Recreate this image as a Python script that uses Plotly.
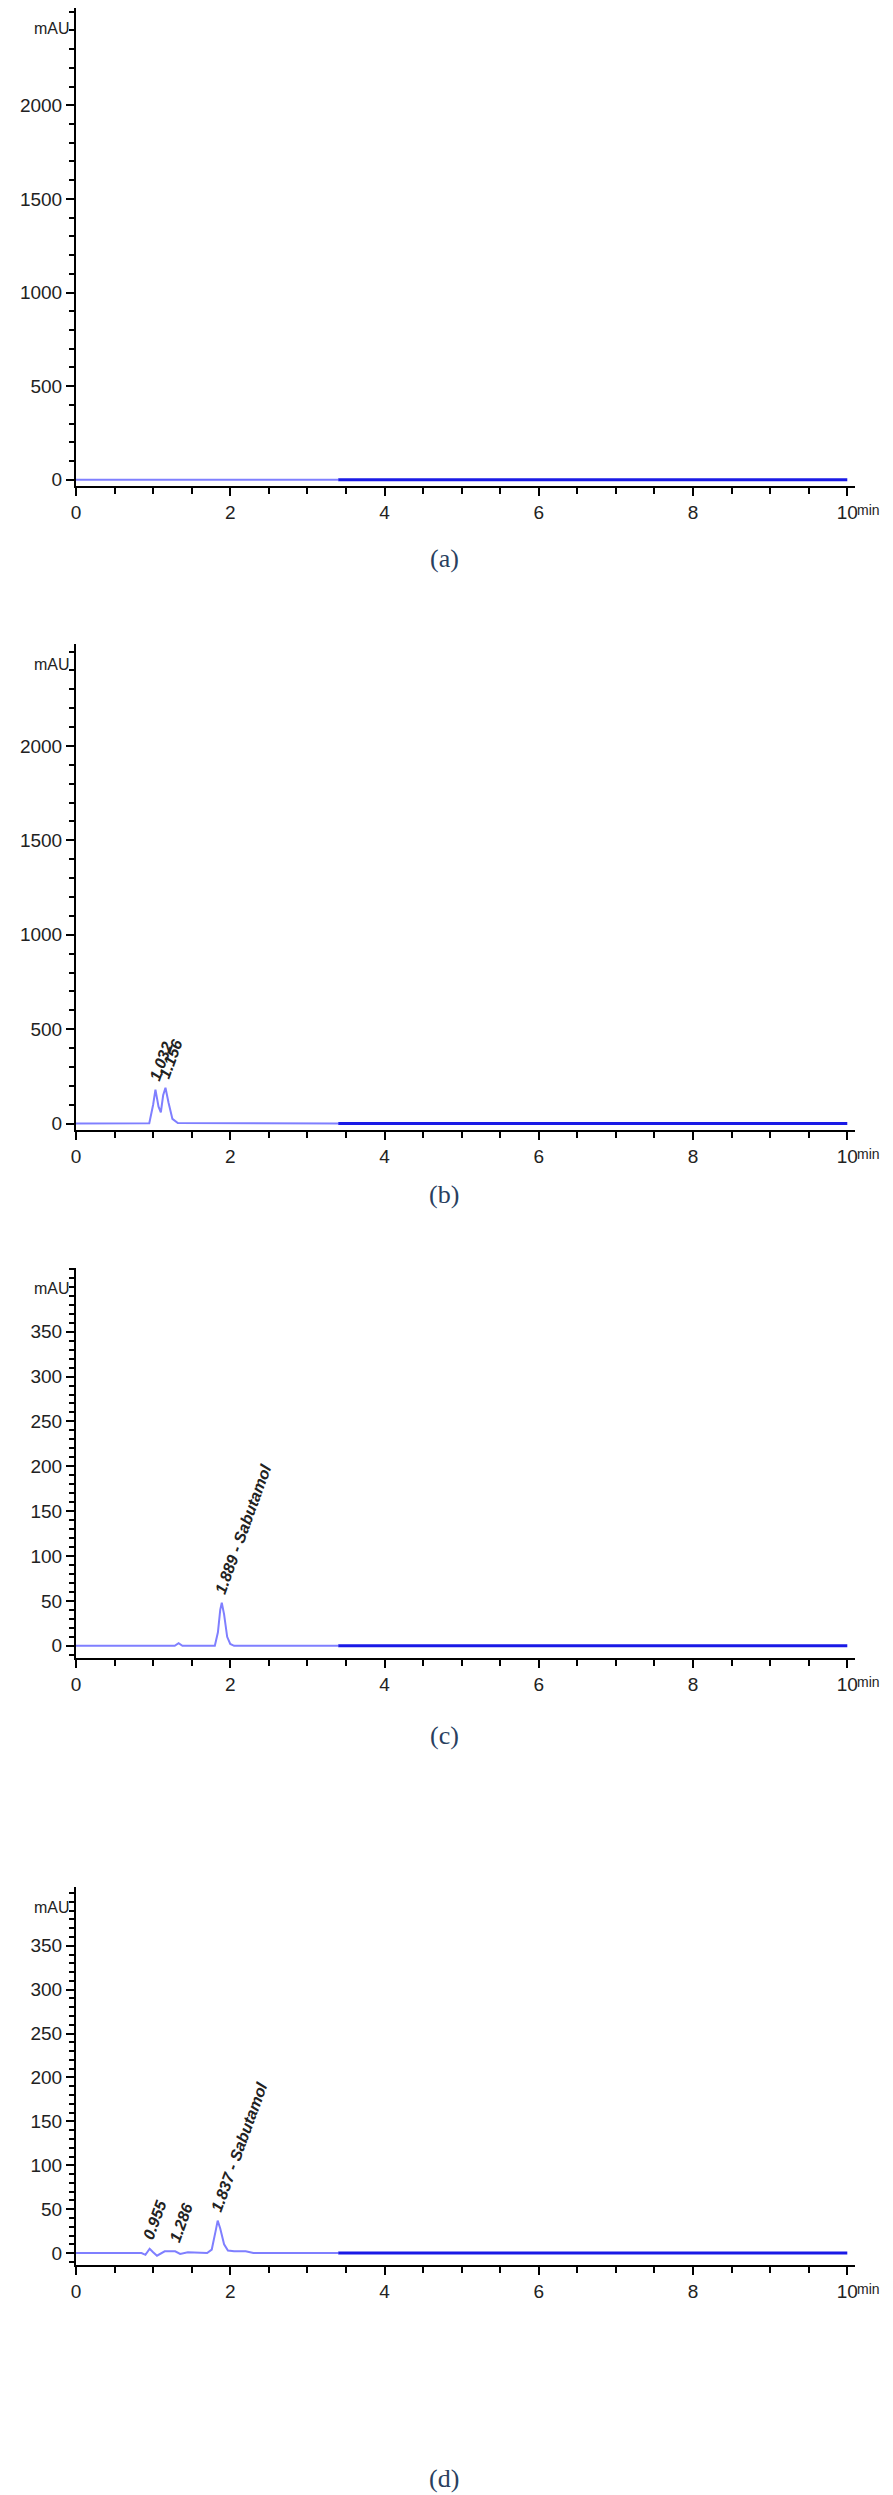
import plotly.graph_objects as go

H = 2495

# panel (a): flat baseline
t_a = [0, 1.4, 3.4, 10]
s_a = [0, 0, 0, 0]

# panel (b): two early peaks
t_b = [0, 0.95, 1.0, 1.03, 1.07, 1.1, 1.13, 1.16, 1.2, 1.25, 1.32, 3.4, 10]
s_b = [0, 2, 100, 180, 90, 60, 150, 190, 110, 25, 3, 0, 0]

# panel (c): Sabutamol peak
t_c = [0, 1.28, 1.33, 1.38, 1.8, 1.84, 1.87, 1.89, 1.92, 1.96, 2.0, 2.05, 3.4, 10]
s_c = [0, 0, 3, 0, 0, 15, 40, 48, 35, 10, 2, 0, 0, 0]

# panel (d): small peaks and Sabutamol
t_d = [0, 0.85, 0.9, 0.955, 1.0, 1.05, 1.15, 1.286, 1.35, 1.45, 1.7, 1.76, 1.81, 1.837,
       1.87, 1.92, 1.97, 2.05, 2.2, 2.3, 3.4, 10]
s_d = [0, 0, -2, 5, 1, -3, 2, 2, -1, 1, 0, 4, 25, 37, 28, 10, 3, 2, 2, 0, 0, 0]

ticks_big = [0, 500, 1000, 1500, 2000]
ticks_small = [0, 50, 100, 150, 200, 250, 300, 350]

labels_b = [(1.032, 180, "1.032"), (1.156, 190, "1.156")]
labels_c = [(1.889, 48, "1.889 - Sabutamol")]
labels_d = [(0.955, 5, "0.955"), (1.286, 2, "1.286"), (1.837, 37, "1.837 - Sabutamol")]

panels = [
    (t_a, s_a, [-35, 2520], ticks_big, 100, [], (0, 479), "(a)", 551),
    (t_b, s_b, [-35, 2540], ticks_big, 100, labels_b, (637, 1124), "(b)", 1188),
    (t_c, s_c, [-14, 421], ticks_small, 10, labels_c, (1262, 1653), "(c)", 1730),
    (t_d, s_d, [-14, 417], ticks_small, 10, labels_d, (1882, 2261), "(d)", 2474),
]

fig = go.Figure()
font_tick = dict(family="Liberation Sans", size=19, color="#222")

for i, (t, s, yr, tv, mdt, labs, (top, bot), cap, capy) in enumerate(panels):
    n = "" if i == 0 else str(i + 1)
    xa, ya = "x" + n, "y" + n
    # light blue up to 3.4 min, darker blue after
    split = t.index(3.4)
    fig.add_trace(go.Scatter(x=t[:split + 1], y=s[:split + 1], mode="lines",
                             line=dict(color="#7f7fff", width=2), xaxis=xa, yaxis=ya,
                             showlegend=False))
    fig.add_trace(go.Scatter(x=t[split:], y=s[split:], mode="lines",
                             line=dict(color="#1a1ae6", width=3), xaxis=xa, yaxis=ya,
                             showlegend=False))
    dom = [1 - bot / H, 1 - top / H]
    fig.layout["xaxis" + n] = dict(
        domain=[0, 1], range=[0, 10.1], anchor=ya, showline=True, linecolor="black",
        linewidth=2, ticks="outside", ticklen=8, tickwidth=2, tickcolor="black",
        tickvals=[0, 2, 4, 6, 8, 10],
        tickfont=font_tick, showgrid=False, zeroline=False,
        minor=dict(ticks="outside", dtick=0.5, ticklen=6, tickcolor="black"))
    fig.layout["yaxis" + n] = dict(
        domain=dom, range=yr, anchor=xa, showline=True, linecolor="black",
        linewidth=2, ticks="outside", ticklen=8, tickwidth=2, tickcolor="black",
        tickvals=tv, tickfont=font_tick, showgrid=False, zeroline=False,
        minor=dict(ticks="outside", dtick=mdt, ticklen=5, tickcolor="black"))
    fig.add_annotation(text="mAU", xref="paper", yref="paper", x=-0.005,
                       y=dom[1] - 10 / H, xanchor="right", yanchor="top",
                       showarrow=False, font=dict(family="Liberation Sans", size=16,
                                                  color="#222"))
    fig.add_annotation(text="min", xref="paper", yref="paper", x=1.0,
                       y=1 - (bot + 24) / H, xanchor="left", yanchor="middle",
                       showarrow=False, font=dict(family="Liberation Sans", size=14,
                                                  color="#222"))
    fig.add_annotation(text=cap, xref="paper", yref="paper", x=0.473,
                       y=1 - capy / H, xanchor="center", yanchor="middle",
                       showarrow=False, font=dict(family="Liberation Serif", size=26))
    for (lx, ly, lt) in labs:
        fig.add_annotation(text="<b><i>" + lt + "</i></b>", x=lx, y=ly, xref=xa, yref=ya,
                           textangle=-70, xanchor="left", yanchor="bottom",
                           showarrow=False, yshift=4, xshift=-12,
                           font=dict(family="Liberation Sans", size=16, color="#222"))

fig.update_layout(width=893, height=H, margin=dict(l=68, r=46, t=0, b=0),
                  plot_bgcolor="white", paper_bgcolor="white")

fig.write_html("out.html")
